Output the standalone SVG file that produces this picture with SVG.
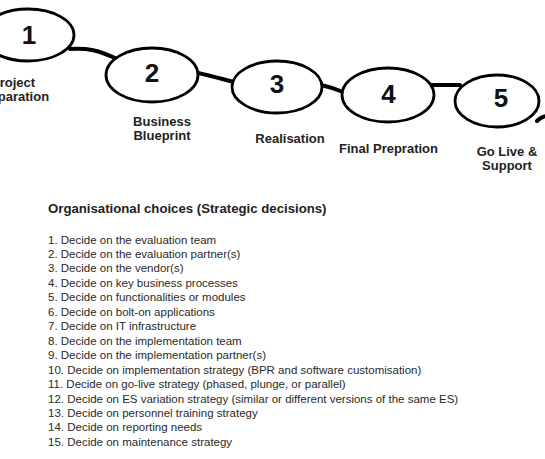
<svg xmlns="http://www.w3.org/2000/svg" width="545" height="459" viewBox="0 0 545 459">
<style>
.node ellipse{fill:#fff;stroke:#000;stroke-width:2.8}
.num{font-family:"Liberation Sans",Arial,sans-serif;font-weight:bold;font-size:26px;fill:#111;text-anchor:middle}
.lbl{font-family:"Liberation Sans",Arial,sans-serif;font-weight:bold;font-size:13px;fill:#222;text-anchor:middle}
.conn path{fill:none;stroke:#000;stroke-width:4;stroke-linecap:round}
.head{font-family:"Liberation Sans",Arial,sans-serif;font-weight:bold;font-size:13.2px;fill:#222}
.item{font-family:"Liberation Sans",Arial,sans-serif;font-size:11.5px;fill:#2a2a2a}
</style>
<rect width="545" height="459" fill="#fff"/>
<g id="connectors" class="conn">
<path d="M70 49 C88 48 98 50 117 59"/>
<path d="M198 73 C212 76 222 79 234 82"/>
<path d="M321 85 C330 87 336 89 343 92"/>
<path d="M432 85 L460 85"/>
<path d="M537 121 C540 118 543 116 547 116"/>
</g>
<g id="n1" class="node"><ellipse cx="28" cy="35" rx="46" ry="26"/><text class="num" x="29" y="44">1</text>
<text class="lbl" x="13" y="87">Project</text><text class="lbl" x="13" y="101">Preparation</text></g>
<g id="n2" class="node"><ellipse cx="152" cy="75" rx="46" ry="27"/><text class="num" x="152" y="82">2</text>
<text class="lbl" x="162" y="126">Business</text><text class="lbl" x="162" y="140">Blueprint</text></g>
<g id="n3" class="node"><ellipse cx="277" cy="87" rx="45" ry="26"/><text class="num" x="277" y="93">3</text>
<text class="lbl" x="290" y="143">Realisation</text></g>
<g id="n4" class="node"><ellipse cx="388" cy="95" rx="46" ry="27"/><text class="num" x="388.5" y="103">4</text>
<text class="lbl" x="388.5" y="153">Final Prepration</text></g>
<g id="n5" class="node"><ellipse cx="497" cy="101" rx="42" ry="26"/><text class="num" x="501" y="107">5</text>
<text class="lbl" x="507" y="156">Go Live &amp;</text><text class="lbl" x="507" y="170">Support</text></g>
<g id="list">
<text class="head" x="48" y="213">Organisational choices (Strategic decisions)</text>
<text class="item" x="48" y="243.5">1. Decide on the evaluation team</text>
<text class="item" x="48" y="258">2. Decide on the evaluation partner(s)</text>
<text class="item" x="48" y="272.4">3. Decide on the vendor(s)</text>
<text class="item" x="48" y="286.9">4. Decide on key business processes</text>
<text class="item" x="48" y="301.3">5. Decide on functionalities or modules</text>
<text class="item" x="48" y="315.8">6. Decide on bolt-on applications</text>
<text class="item" x="48" y="330.3">7. Decide on IT infrastructure</text>
<text class="item" x="48" y="344.7">8. Decide on the implementation team</text>
<text class="item" x="48" y="359.2">9. Decide on the implementation partner(s)</text>
<text class="item" x="48" y="373.6">10. Decide on implementation strategy (BPR and software customisation)</text>
<text class="item" x="48" y="388.1">11. Decide on go-live strategy (phased, plunge, or parallel)</text>
<text class="item" x="48" y="402.5">12. Decide on ES variation strategy (similar or different versions of the same ES)</text>
<text class="item" x="48" y="417">13. Decide on personnel training strategy</text>
<text class="item" x="48" y="431.4">14. Decide on reporting needs</text>
<text class="item" x="48" y="445.9">15. Decide on maintenance strategy</text>
</g>
</svg>
